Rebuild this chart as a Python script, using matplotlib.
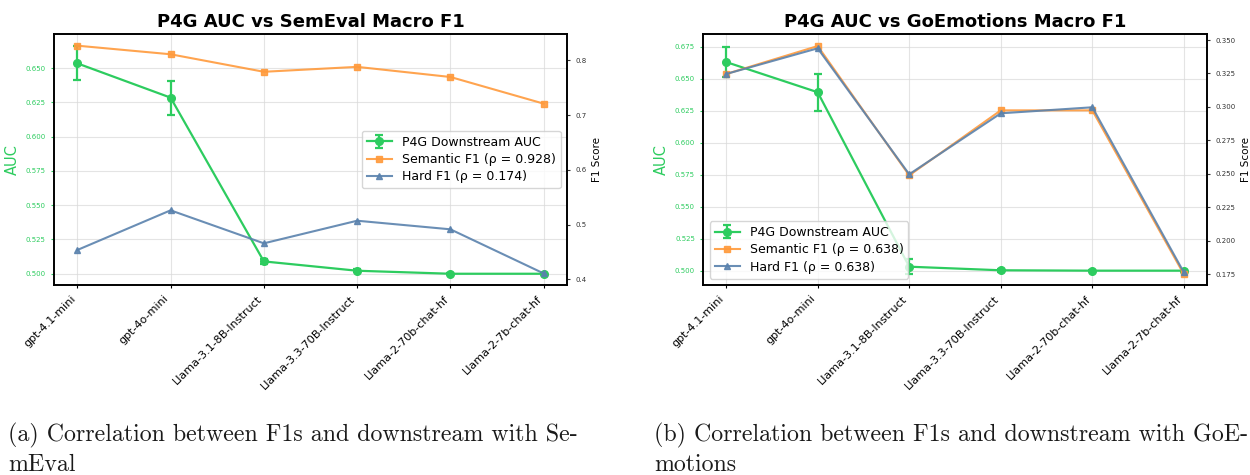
import matplotlib
matplotlib.use("Agg")
import matplotlib.pyplot as plt
import numpy as np

models = ["gpt-4.1-mini", "gpt-4o-mini", "Llama-3.1-8B-Instruct",
          "Llama-3.3-70B-Instruct", "Llama-2-70b-chat-hf", "Llama-2-7b-chat-hf"]

# SemEval panel
sem_auc = [0.6534, 0.6284, 0.5090, 0.5022, 0.5000, 0.5000]
sem_auc_err = [0.0123, 0.0125, 0.0020, 0.0010, 0.0005, 0.0005]
sem_semantic_f1 = [0.8267, 0.8110, 0.7790, 0.7880, 0.7695, 0.7208]
sem_hard_f1 = [0.4535, 0.5260, 0.4657, 0.5070, 0.4913, 0.4107]
sem_rho = (0.928, 0.174)

# GoEmotions panel
goe_auc = [0.6630, 0.6394, 0.5031, 0.5003, 0.5000, 0.5000]
goe_auc_err = [0.0120, 0.0145, 0.0058, 0.0010, 0.0005, 0.0005]
goe_semantic_f1 = [0.3246, 0.3455, 0.2488, 0.2974, 0.2974, 0.1748]
goe_hard_f1 = [0.3246, 0.3438, 0.2496, 0.2952, 0.2997, 0.1762]
goe_rho = (0.638, 0.638)

GREEN = "#2dcc5f"
ORANGE = "#ff9a3c"
BLUE = "#5a82ad"

fig = plt.figure(figsize=(12.5, 4.75), dpi=100)


def panel(rect, auc, err, sf1, hf1, rho, title, auc_lim, f1_lim, f1_ticks, f1_fmt, legend_loc):
    ax1 = fig.add_axes(rect)
    x = np.arange(len(models))
    h1 = ax1.errorbar(x, auc, yerr=err, color=GREEN, marker="o", markersize=5.5,
                      linewidth=1.6, capsize=3, elinewidth=1.6, capthick=1.6,
                      label="P4G Downstream AUC")
    ax1.set_ylim(*auc_lim)
    ax1.set_xlim(-0.25, len(models) - 0.75)
    ax1.set_ylabel("AUC", color=GREEN, fontsize=10.5)
    ax1.tick_params(axis="y", colors=GREEN, labelsize=5, length=2.5, width=0.8)
    ax1.yaxis.set_major_formatter(matplotlib.ticker.FormatStrFormatter("%.3f"))
    ax1.set_xticks(x)
    ax1.set_xticklabels(models, rotation=45, ha="right", fontsize=8)
    ax1.tick_params(axis="x", length=2.5, width=0.8)
    ax1.grid(True, color="#d9d9d9", alpha=0.7, linewidth=0.8)
    for s in ax1.spines.values():
        s.set_linewidth(1.2)
    ax1.set_title(title, fontsize=13, fontweight="bold", pad=5)

    ax2 = ax1.twinx()
    h2, = ax2.plot(x, sf1, color=ORANGE, marker="s", markersize=4.5, linewidth=1.5,
                   alpha=0.9, label=f"Semantic F1 (ρ = {rho[0]:.3f})")
    h3, = ax2.plot(x, hf1, color=BLUE, marker="^", markersize=5, linewidth=1.5,
                   alpha=0.9, label=f"Hard F1 (ρ = {rho[1]:.3f})")
    ax2.set_ylim(*f1_lim)
    ax2.set_yticks(f1_ticks)
    ax2.yaxis.set_major_formatter(matplotlib.ticker.FormatStrFormatter(f1_fmt))
    ax2.set_ylabel("F1 Score", fontsize=7.5)
    ax2.tick_params(axis="y", labelsize=5, colors="#333333", length=2.5, width=0.8)
    for s in ax2.spines.values():
        s.set_linewidth(1.2)
    ax2.legend([h1, h2, h3], [h1.get_label(), h2.get_label(), h3.get_label()],
               loc=legend_loc, fontsize=9, framealpha=0.8, borderpad=0.4,
               handlelength=2.0, labelspacing=0.35)
    return ax1, ax2


panel([0.0432, 0.40, 0.4104, 0.5284], sem_auc, sem_auc_err, sem_semantic_f1, sem_hard_f1,
      sem_rho, "P4G AUC vs SemEval Macro F1", (0.4918, 0.6748), (0.3896, 0.848),
      [0.4, 0.5, 0.6, 0.7, 0.8], "%.1f", "center right")

panel([0.5626, 0.40, 0.4028, 0.5284], goe_auc, goe_auc_err, goe_semantic_f1, goe_hard_f1,
      goe_rho, "P4G AUC vs GoEmotions Macro F1", (0.4888, 0.6849), (0.1668, 0.3545),
      [0.175, 0.2, 0.225, 0.25, 0.275, 0.3, 0.325, 0.35], "%.3f", "lower left")

cap_kw = dict(fontsize=17.2, family="cmr10", color="#1a1a1a", va="baseline", ha="left")
fig.text(8 / 1250, 1 - 441 / 475, "(a) Correlation between F1s and downstream with Se-", **cap_kw)
fig.text(8 / 1250, 1 - 471 / 475, "mEval", **cap_kw)
fig.text(654 / 1250, 1 - 441 / 475, "(b) Correlation between F1s and downstream with GoE-", **cap_kw)
fig.text(654 / 1250, 1 - 471 / 475, "motions", **cap_kw)

fig.savefig("out.png", dpi=100)
